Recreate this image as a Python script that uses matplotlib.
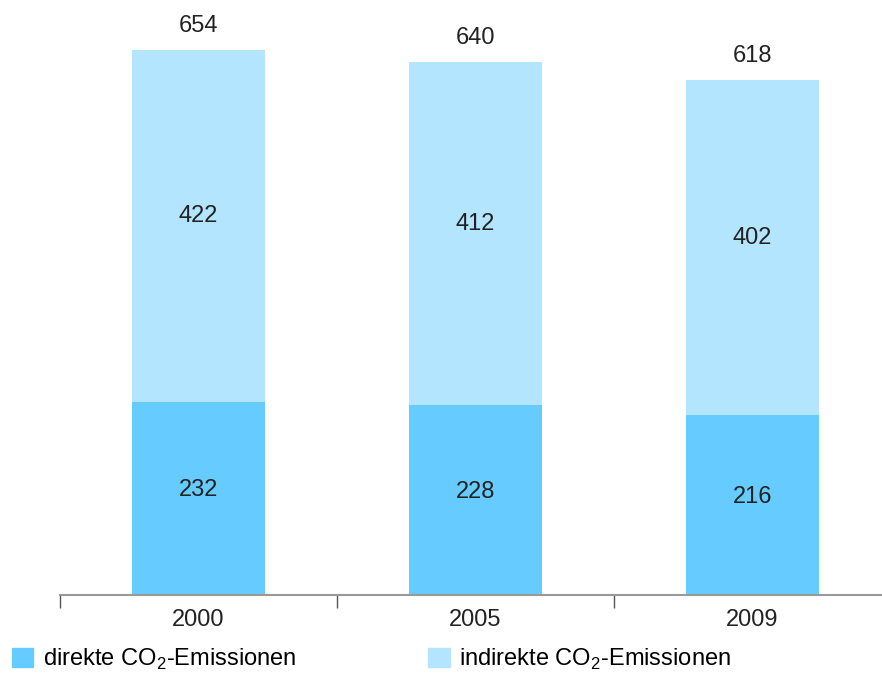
import matplotlib.pyplot as plt
from matplotlib.patches import Patch

plt.rcParams['font.family'] = ['Liberation Sans', 'DejaVu Sans']
plt.rcParams['mathtext.fontset'] = 'custom'
plt.rcParams['mathtext.rm'] = 'Liberation Sans'

# CO2 emissions per year
years = ['2000', '2005', '2009']
direkt = [232, 228, 216]
indirekt = [422, 412, 402]
totals = [654, 640, 618]

labels = [r'direkte CO$_\mathregular{2}$-Emissionen',
          r'indirekte CO$_\mathregular{2}$-Emissionen']
colors = ['#66ccff', '#b3e5ff']

fig = plt.figure(figsize=(8.82, 6.73), dpi=100)
ax = fig.add_axes([60 / 882, 78 / 673, 831 / 882, 595 / 673])

x = range(len(years))
ax.bar(x, direkt, width=0.48, color=colors[0], label=labels[0])
ax.bar(x, indirekt, width=0.48, bottom=direkt, color=colors[1], label=labels[1])

fs = 17
for i in x:
    ax.annotate(str(direkt[i]), (i, direkt[i] / 2), xytext=(0, 6), textcoords='offset points',
                ha='center', va='center', fontsize=fs, color='#222222')
    ax.annotate(str(indirekt[i]), (i, direkt[i] + indirekt[i] / 2), xytext=(0, 7),
                textcoords='offset points', ha='center', va='center', fontsize=fs, color='#222222')
    ax.annotate(str(totals[i]), (i, direkt[i] + indirekt[i]), xytext=(0, 17),
                textcoords='offset points', ha='center', va='center', fontsize=fs, color='#222222')

ax.set_xlim(-0.5, 2.5)
ax.set_ylim(0, 714)
for s in ['top', 'right', 'left']:
    ax.spines[s].set_visible(False)
ax.spines['bottom'].set_color('#999999')
ax.spines['bottom'].set_linewidth(1.5)
ax.set_yticks([])
ax.set_xticks(list(x))
ax.set_xticklabels(years, fontsize=fs, color='#222222')
ax.tick_params(axis='x', which='major', length=0, pad=10)
ax.set_xticks([-0.5, 0.5, 1.5, 2.5], minor=True)
ax.tick_params(axis='x', which='minor', length=9, width=1, color='#555555', direction='out')

fig.legend(handles=[Patch(color=colors[0], label=labels[0]), Patch(color=colors[1], label=labels[1])],
           loc='lower left', bbox_to_anchor=(12 / 882, 1 / 673), ncol=2, frameon=False,
           fontsize=fs, handlelength=0.9, handleheight=0.9, handletextpad=0.4,
           columnspacing=5.6, borderpad=0, borderaxespad=0)

fig.savefig('out.png', dpi=100)
